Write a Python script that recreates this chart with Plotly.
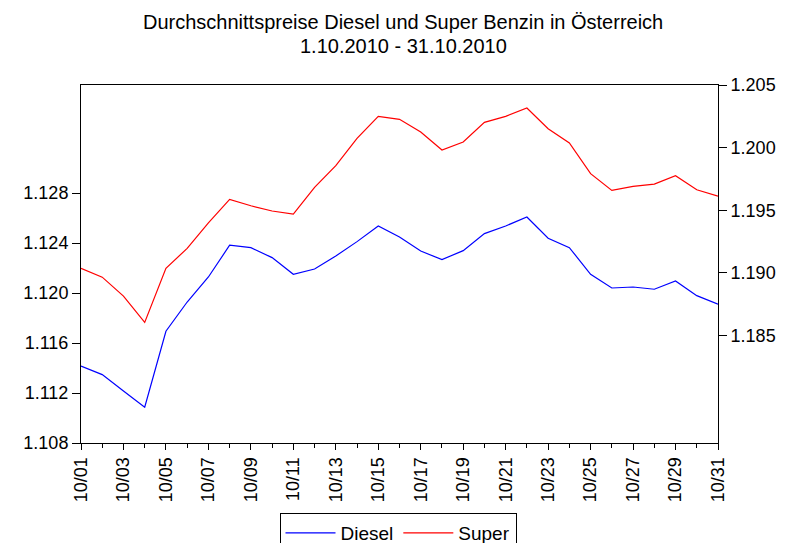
import plotly.graph_objects as go

days = list(range(1, 32))
date_labels = [f"10/{d:02d}" for d in days]

diesel = [1.11416, 1.11347, 1.11216, 1.11086, 1.11694, 1.11928, 1.12128, 1.12382,
          1.12363, 1.12283, 1.12150, 1.12192, 1.12296, 1.12411, 1.12536, 1.12448,
          1.12336, 1.12267, 1.12339, 1.12475, 1.12536, 1.12608, 1.12438, 1.12363,
          1.12150, 1.12040, 1.12048, 1.12030, 1.12096, 1.11979, 1.11910]

super_ = [1.19036, 1.18966, 1.18815, 1.18605, 1.19036, 1.19196, 1.19400, 1.19587,
          1.19536, 1.19494, 1.19470, 1.19683, 1.19856, 1.20074, 1.20250, 1.20226,
          1.20125, 1.19981, 1.20045, 1.20202, 1.20250, 1.20316, 1.20151, 1.20037,
          1.19792, 1.19659, 1.19691, 1.19709, 1.19776, 1.19664, 1.19613]

left_ticks = [1.108, 1.112, 1.116, 1.120, 1.124, 1.128]
right_ticks = [1.185, 1.190, 1.195, 1.200, 1.205]
x_tickvals = days[::2]
x_ticktext = date_labels[::2]

FONT = "Liberation Sans, Arial, sans-serif"
FS = 18

# page body has an 8px offset; compensate so the plot area lands at x 81..718, y 85..443
OFF = 8
W, H = 791 - OFF, 543 - OFF
L, R, T, B = 81 - OFF, 73, 85 - OFF, 100
plot_h = H - T - B
plot_w = W - L - R

def px_to_paper_x(px):
    return (px - OFF - L) / plot_w

def px_to_paper_y(py):
    return (H + OFF - B - py) / plot_h

fig = go.Figure()
fig.add_trace(go.Scatter(x=days, y=diesel, mode="lines", name="Diesel",
                         line=dict(color="#0000ff", width=1.2), yaxis="y"))
fig.add_trace(go.Scatter(x=days, y=super_, mode="lines", name="Super",
                         line=dict(color="#ff0000", width=1.2), yaxis="y2"))

fig.update_layout(
    width=W, height=H,
    margin=dict(l=L, r=R, t=T, b=B, autoexpand=False),
    paper_bgcolor="white", plot_bgcolor="white",
    font=dict(family=FONT, size=FS, color="black"),
    showlegend=True,
    legend=dict(orientation="h", x=px_to_paper_x(398), xanchor="center",
                y=px_to_paper_y(513), yanchor="top",
                bordercolor="black", borderwidth=1, font=dict(size=19),
                itemwidth=50),
    xaxis=dict(range=[1, 31], tickmode="array", tickvals=x_tickvals, ticktext=x_ticktext,
               tickangle=-90, ticks="outside", ticklen=6, tickcolor="black",
               showgrid=False, zeroline=False, showline=True, linecolor="black",
               linewidth=1, mirror=True, automargin=False,
               minor=dict(tickmode="linear", tick0=1, dtick=1, ticks="outside",
                          ticklen=4, tickcolor="black", showgrid=False)),
    yaxis=dict(range=[1.108, 1.13664], tickmode="array", tickvals=left_ticks,
               ticktext=[f"{v:.3f}" for v in left_ticks],
               ticks="outside", ticklen=8, tickcolor="black", automargin=False,
               showgrid=False, zeroline=False, showline=True, linecolor="black",
               linewidth=1),
    yaxis2=dict(range=[1.17642, 1.205], tickmode="array", tickvals=right_ticks,
                ticktext=[f"{v:.3f}" for v in right_ticks],
                overlaying="y", side="right", automargin=False,
                ticks="outside", ticklen=8, tickcolor="black",
                showgrid=False, zeroline=False, showline=True, linecolor="black",
                linewidth=1),
)

fig.add_annotation(text="Durchschnittspreise Diesel und Super Benzin in Österreich",
                   x=px_to_paper_x(403), xref="paper", y=px_to_paper_y(22), yref="paper",
                   showarrow=False, xanchor="center", yanchor="middle",
                   font=dict(size=20))
fig.add_annotation(text="1.10.2010 - 31.10.2010",
                   x=px_to_paper_x(403), xref="paper", y=px_to_paper_y(46), yref="paper",
                   showarrow=False, xanchor="center", yanchor="middle",
                   font=dict(size=20))

fig.write_html("out.html")
